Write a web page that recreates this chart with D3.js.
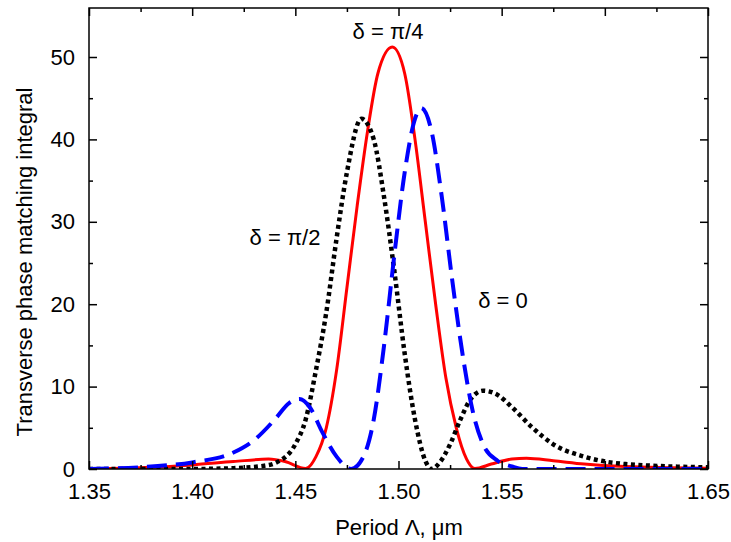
<!DOCTYPE html>
<html><head><meta charset="utf-8">
<script src="https://cdn.jsdelivr.net/npm/d3@7"></script>
<style>body{margin:0;background:#fff}text{font-family:"Liberation Sans",Arial,sans-serif}</style>
</head><body><div id="chart"></div>
<script>
const width = 731, height = 542;
const marginLeft = 89, marginRight = 23, marginTop = 8, marginBottom = 73;

const xTicks = [1.35, 1.40, 1.45, 1.50, 1.55, 1.60, 1.65];
const yTicks = [0, 10, 20, 30, 40, 50];

const redX = [1.35,1.38,1.40,1.42,1.437,1.445,1.455,1.46,1.465,1.47,1.475,1.48,1.485,1.49,1.497,1.503,1.508,1.513,1.518,1.523,1.528,1.533,1.537,1.545,1.555,1.562,1.575,1.59,1.61,1.65];
const redY = [0,0.2,0.5,0.9,1.2,0.9,0.05,1.5,5,12,22,32,41,48,51.2,48,40,30,20,11,5,1.2,0.05,0.6,1.2,1.3,1.0,0.6,0.3,0.1];

const blackX = [1.35,1.40,1.42,1.435,1.44,1.45,1.455,1.46,1.465,1.47,1.475,1.482,1.488,1.493,1.498,1.503,1.508,1.513,1.516,1.52,1.525,1.53,1.535,1.541,1.548,1.555,1.565,1.575,1.59,1.61,1.65];
const blackY = [0,0,0.1,0.4,0.7,3,6,12,19,28,36,42.5,40,33,24,14,6,1,0,0.8,3,6,8.5,9.5,9,7.5,5,3,1.5,0.6,0.2];

const blueX = [1.35,1.38,1.40,1.42,1.43,1.44,1.447,1.452,1.457,1.463,1.47,1.477,1.483,1.488,1.493,1.498,1.503,1.508,1.511,1.516,1.521,1.526,1.531,1.536,1.541,1.548,1.555,1.56,1.65];
const blueY = [0,0.3,0.8,2,3.5,6,8,8.5,7.5,4.5,1.5,0,1.5,6,15,26,36,42.5,43.8,41,33,23,14,7,3,1,0.3,0,0];

const xScale = d3.scaleLinear().domain([1.35, 1.65]).range([marginLeft, width - marginRight]);
const yScale = d3.scaleLinear().domain([0, 50]).range([height - marginBottom, 57]);
const y0 = height - marginBottom, yTop = marginTop;

const svg = d3.select("#chart").append("svg").attr("width", width).attr("height", height);

svg.append("defs").append("clipPath").attr("id", "clip").append("rect")
    .attr("x", marginLeft).attr("y", yTop).attr("width", width - marginLeft - marginRight).attr("height", y0 - yTop);

const line = d3.line().x(d => xScale(d[0])).y(d => yScale(d[1])).curve(d3.curveMonotoneX);
const g = svg.append("g").attr("clip-path", "url(#clip)");

g.append("path").datum(d3.zip(redX, redY)).attr("d", line)
    .attr("fill", "none").attr("stroke", "#ff0000").attr("stroke-width", 3);
g.append("path").datum(d3.zip(blackX, blackY)).attr("d", line)
    .attr("fill", "none").attr("stroke", "#000").attr("stroke-width", 4.5).attr("stroke-dasharray", "4,3.5");
g.append("path").datum(d3.zip(blueX, blueY)).attr("d", line)
    .attr("fill", "none").attr("stroke", "#0000ff").attr("stroke-width", 4).attr("stroke-dasharray", "20,9");

// frame
svg.append("rect").attr("x", marginLeft).attr("y", yTop)
    .attr("width", width - marginLeft - marginRight).attr("height", y0 - yTop)
    .attr("fill", "none").attr("stroke", "#000").attr("stroke-width", 1.5);

const xMinor = d3.range(1.375, 1.65, 0.05);
const yMinor = d3.range(5, 55, 10).filter(v => yScale(v) > yTop);

function axisStyle(sel) {
    sel.attr("font-size", null).attr("font-family", null);
    sel.select(".domain").remove();
    sel.selectAll("line").attr("stroke-width", 1.5);
}

svg.append("g").attr("transform", `translate(0,${y0})`)
    .call(d3.axisBottom(xScale).tickValues(xTicks).tickSize(-8).tickPadding(14).tickFormat(d3.format(".2f")))
    .call(axisStyle).selectAll("text").style("font-size", "22px");
svg.append("g").attr("transform", `translate(0,${y0})`)
    .call(d3.axisBottom(xScale).tickValues(xMinor).tickSize(-4).tickFormat("")).call(axisStyle);
svg.append("g").attr("transform", `translate(0,${yTop})`)
    .call(d3.axisTop(xScale).tickValues(xTicks).tickSize(-8).tickFormat("")).call(axisStyle);
svg.append("g").attr("transform", `translate(0,${yTop})`)
    .call(d3.axisTop(xScale).tickValues(xMinor).tickSize(-4).tickFormat("")).call(axisStyle);

svg.append("g").attr("transform", `translate(${marginLeft},0)`)
    .call(d3.axisLeft(yScale).tickValues(yTicks).tickSize(-8).tickPadding(14))
    .call(axisStyle).selectAll("text").style("font-size", "22px");
svg.append("g").attr("transform", `translate(${marginLeft},0)`)
    .call(d3.axisLeft(yScale).tickValues(yMinor).tickSize(-4).tickFormat("")).call(axisStyle);
svg.append("g").attr("transform", `translate(${width - marginRight},0)`)
    .call(d3.axisRight(yScale).tickValues(yTicks).tickSize(-8).tickFormat("")).call(axisStyle);
svg.append("g").attr("transform", `translate(${width - marginRight},0)`)
    .call(d3.axisRight(yScale).tickValues(yMinor).tickSize(-4).tickFormat("")).call(axisStyle);

svg.append("text").attr("text-anchor", "middle").attr("x", 399).attr("y", 535)
    .style("font-size", "22px").text("Period Λ, μm");
svg.append("text").attr("text-anchor", "middle").attr("transform", "rotate(-90)")
    .attr("x", -262).attr("y", 32).style("font-size", "22px").text("Transverse phase matching integral");

const labels = [
    { t: "δ = π/4", x: 388, y: 39 },
    { t: "δ = π/2", x: 285, y: 245 },
    { t: "δ = 0", x: 503, y: 308 }
];
svg.selectAll(".lbl").data(labels).enter().append("text")
    .attr("text-anchor", "middle").attr("x", d => d.x).attr("y", d => d.y)
    .style("font-size", "22px").text(d => d.t);
</script></body></html>
